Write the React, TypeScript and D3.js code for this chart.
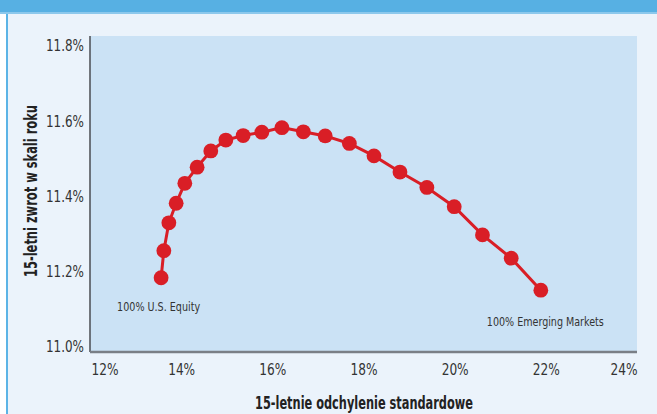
import React, { useEffect, useRef } from 'react';
import * as d3 from 'd3';

// standard deviation (%) and annualized return (%) for each mix, 100% US equity -> 100% EM
const risk = [13.56, 13.62, 13.73, 13.89, 14.08, 14.35, 14.65, 14.98, 15.36, 15.77, 16.21,
  16.68, 17.16, 17.69, 18.23, 18.8, 19.39, 19.99, 20.61, 21.24, 21.89];
const ret = [11.184, 11.256, 11.33, 11.382, 11.435, 11.478, 11.521, 11.55, 11.562, 11.571, 11.583,
  11.572, 11.561, 11.541, 11.508, 11.465, 11.424, 11.373, 11.298, 11.236, 11.151];

const xTicks = [12, 14, 16, 18, 20, 22, 24];
const yTicks = [11.0, 11.2, 11.4, 11.6, 11.8];

const FONT = '"DejaVu Sans Condensed", "Liberation Sans Narrow", sans-serif';

const App: React.FC = () => {
  const svgRef = useRef<SVGSVGElement>(null);

  useEffect(() => {
    if (!svgRef.current) return;
    const svg = d3.select(svgRef.current);
    svg.selectAll('*').remove();

    const W = 657;
    const H = 414;
    const plot = { left: 90, right: 637, top: 36, bottom: 352 };

    const x = d3.scaleLinear().domain([12, 24]).range([plot.left, plot.right]);
    const y = d3.scaleLinear().domain([11.0, 11.8]).range([347, 46]);

    // page background
    svg.append('rect').attr('width', W).attr('height', H).attr('fill', '#ffffff');
    svg.append('rect').attr('x', 7).attr('y', 0).attr('width', W - 7).attr('height', H).attr('fill', '#ebf3fb');
    svg.append('rect').attr('x', 6).attr('y', 12).attr('width', 2).attr('height', H).attr('fill', '#5cb4e6');
    svg.append('rect').attr('x', 0).attr('y', 0).attr('width', W).attr('height', 13).attr('fill', '#57b0e3');
    svg.append('rect').attr('x', 0).attr('y', 12).attr('width', W).attr('height', 2).attr('fill', '#8cc8ec');

    // plot area
    svg.append('rect')
      .attr('x', plot.left)
      .attr('y', plot.top)
      .attr('width', plot.right - plot.left)
      .attr('height', plot.bottom - plot.top)
      .attr('fill', '#cbe2f5');

    // axis lines
    svg.append('line')
      .attr('x1', plot.left).attr('x2', plot.left)
      .attr('y1', plot.top).attr('y2', plot.bottom)
      .attr('stroke', '#4a4d52').attr('stroke-width', 1.5);
    svg.append('line')
      .attr('x1', plot.left).attr('x2', plot.right)
      .attr('y1', plot.bottom).attr('y2', plot.bottom)
      .attr('stroke', '#7a7f86').attr('stroke-width', 2.5);

    // Y tick labels
    const yAxis = svg.append('g')
      .attr('transform', `translate(${plot.left - 6},0)`)
      .call(d3.axisLeft(y).tickValues(yTicks).tickSize(0).tickPadding(0)
        .tickFormat(d => `${(d as number).toFixed(1)}%`));
    yAxis.select('.domain').remove();
    yAxis.selectAll('text')
      .attr('font-family', FONT)
      .attr('font-size', 15)
      .attr('fill', '#333')
      .attr('textLength', 38)
      .attr('lengthAdjust', 'spacingAndGlyphs');

    // X tick labels, end labels pushed inside the plot width
    const xAxis = svg.append('g')
      .attr('transform', `translate(0,${plot.bottom})`)
      .call(d3.axisBottom(x).tickValues(xTicks).tickSize(0).tickPadding(12)
        .tickFormat(d => `${d}%`));
    xAxis.select('.domain').remove();
    xAxis.selectAll<SVGTextElement, number>('text')
      .attr('font-family', FONT)
      .attr('font-size', 15)
      .attr('fill', '#333')
      .attr('textLength', 27)
      .attr('lengthAdjust', 'spacingAndGlyphs')
      .attr('text-anchor', d => (d === 12 ? 'start' : d === 24 ? 'end' : 'middle'))
      .attr('dx', d => (d === 12 ? 1 : 0));

    // axis titles
    svg.append('text')
      .attr('transform', `translate(37,191) rotate(-90)`)
      .attr('text-anchor', 'middle')
      .attr('font-family', FONT)
      .attr('font-weight', 'bold')
      .attr('font-size', 17)
      .attr('fill', '#222')
      .attr('textLength', 172)
      .attr('lengthAdjust', 'spacingAndGlyphs')
      .text('15-letni zwrot w skali roku');

    svg.append('text')
      .attr('x', 364)
      .attr('y', 409)
      .attr('text-anchor', 'middle')
      .attr('font-family', FONT)
      .attr('font-weight', 'bold')
      .attr('font-size', 17)
      .attr('fill', '#222')
      .attr('textLength', 218)
      .attr('lengthAdjust', 'spacingAndGlyphs')
      .text('15-letnie odchylenie standardowe');

    // frontier line + markers
    const pts = risk.map((r, i) => [r, ret[i]] as [number, number]);
    const line = d3.line<[number, number]>()
      .x(d => x(d[0]))
      .y(d => y(d[1]));

    svg.append('path')
      .datum(pts)
      .attr('fill', 'none')
      .attr('stroke', '#d91e26')
      .attr('stroke-width', 3)
      .attr('d', line);

    svg.append('g')
      .selectAll('circle')
      .data(pts)
      .enter().append('circle')
      .attr('cx', d => x(d[0]))
      .attr('cy', d => y(d[1]))
      .attr('r', 7.4)
      .attr('fill', '#d91e26');

    // end annotations
    svg.append('text')
      .attr('x', x(risk[0]) - 44)
      .attr('y', 311)
      .attr('font-family', FONT)
      .attr('font-size', 13)
      .attr('fill', '#333')
      .attr('textLength', 83)
      .attr('lengthAdjust', 'spacingAndGlyphs')
      .text('100% U.S. Equity');

    svg.append('text')
      .attr('x', x(risk[risk.length - 1]) - 54)
      .attr('y', 326)
      .attr('font-family', FONT)
      .attr('font-size', 13)
      .attr('fill', '#333')
      .attr('textLength', 117)
      .attr('lengthAdjust', 'spacingAndGlyphs')
      .text('100% Emerging Markets');
  }, []);

  return (
    <svg
      ref={svgRef}
      width={657}
      height={414}
      style={{ position: 'absolute', left: 0, top: 0 }}
    />
  );
};

export default App;
